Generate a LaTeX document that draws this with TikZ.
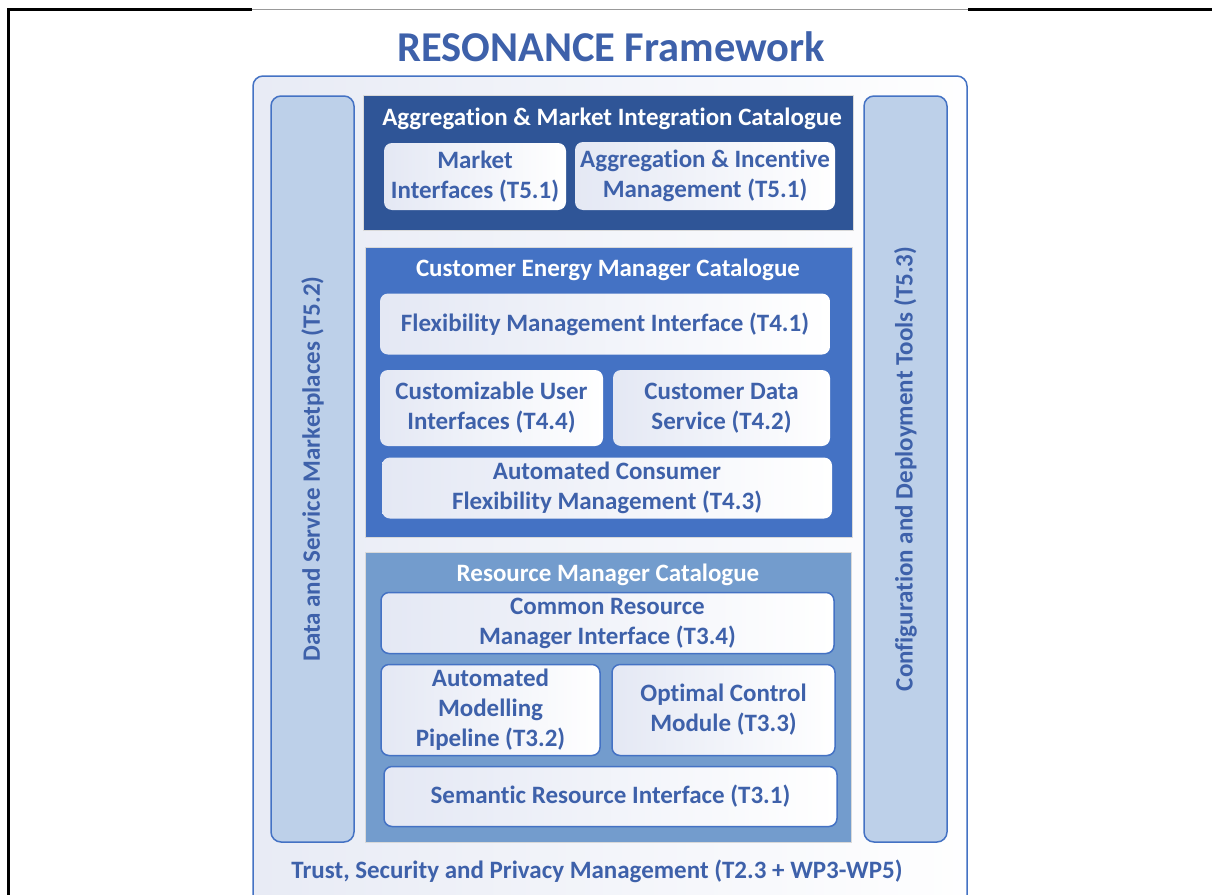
\documentclass[tikz,border=0pt]{standalone}
\usepackage{fontspec}
\setmainfont[Ligatures=NoCommon]{Carlito}
\usepackage{tikz}
\usetikzlibrary{positioning}
\definecolor{resline}{RGB}{68,114,196}
\definecolor{restext}{RGB}{62,97,170}
\definecolor{catdark}{RGB}{47,85,151}
\definecolor{catmid}{RGB}{68,114,196}
\definecolor{catlight}{RGB}{115,156,205}
\definecolor{pillarfill}{RGB}{189,208,233}
\definecolor{lavender}{RGB}{228,232,244}
\definecolor{framelav}{RGB}{232,235,245}
\tikzset{
  module/.style={rounded corners=8pt, left color=lavender, right color=white,
    draw=none, text=restext, align=center, inner sep=0pt,
    font=\bfseries\fontsize{25}{30}\selectfont},
  rmmodule/.style={module, draw=resline, line width=1.5pt},
  catalogue/.style={draw=black!15, line width=0.8pt, inner sep=0pt},
  cattitle/.style={text=white, font=\bfseries\fontsize{25}{30}\selectfont},
  pillar/.style={draw=resline, line width=1.5pt, fill=pillarfill, rounded corners=10pt,
    rotate=90, text=restext, inner sep=0pt, font=\bfseries\fontsize{25}{30}\selectfont}
}
\tikzstyle{framebox} = [draw=resline, line width=1.5pt, rounded corners=10pt,
  left color=framelav, right color=white!97!framelav]

\begin{document}
\begin{tikzpicture}[x=1pt, y=-1pt]
  \clip (0,0) rectangle (1212,894);
  \fill[white] (0,0) rectangle (1212,894);

  % page border
  \draw[line width=3pt] (8.5,900) -- (8.5,9) -- (252,9);
  \draw[black!40, line width=1pt] (252,9) -- (968,9);
  \draw[line width=3pt] (968,9) -- (1214,9);

  \node[text=restext, font=\bfseries\fontsize{42.5}{50}\selectfont] (title) at (611,47) {RESONANCE Framework};
  \node[framebox, minimum width=714pt, minimum height=860pt] (frame) at (610,506) {};

  % side pillars
  \node[pillar, minimum width=746pt, minimum height=83pt] (dsm) at (312.5,469) {Data and Service Marketplaces (T5.2)};
  \node[pillar, minimum width=746pt, minimum height=83pt] (cdt) at (905.5,469) {Configuration and Deployment Tools (T5.3)};

  % aggregation catalogue
  \node[catalogue, fill=catdark, minimum width=490pt, minimum height=135pt] (amic) at (608,162.5) {};
  \node[cattitle] (amictitle) at (612,119) {Aggregation \& Market Integration Catalogue};
  \node[module, minimum width=182pt, minimum height=67pt] (market) at (475,176.5) {Market\\Interfaces (T5.1)};
  \node[module, minimum width=260pt, minimum height=68pt] (aggr) at (705,176) {Aggregation \& Incentive\\Management (T5.1)};

  % customer energy manager catalogue
  \node[catalogue, fill=catmid, minimum width=487pt, minimum height=290pt] (cem) at (608.5,392) {};
  \node[cattitle] (cemtitle) at (608,270) {Customer Energy Manager Catalogue};
  \node[module, minimum width=450pt, minimum height=61pt] (flexif) at (605,324) {Flexibility Management Interface (T4.1)};
  \node[module, minimum width=223pt, minimum height=76pt] (custui) at (491.5,408) {Customizable User\\Interfaces (T4.4)};
  \node[module, minimum width=217pt, minimum height=76pt] (custdata) at (721.5,408) {Customer Data\\Service (T4.2)};
  \node[module, minimum width=450pt, minimum height=61pt] (autocons) at (607,488) {Automated Consumer\\Flexibility Management (T4.3)};

  % resource manager catalogue
  \node[catalogue, fill=catlight, minimum width=486pt, minimum height=290pt] (rm) at (608,697) {};
  \node[cattitle] (rmtitle) at (608,575) {Resource Manager Catalogue};
  \node[rmmodule, minimum width=453pt, minimum height=61pt] (commonrm) at (607.5,623) {Common Resource\\Manager Interface (T3.4)};
  \node[rmmodule, minimum width=219pt, minimum height=91pt] (automod) at (490.5,710) {Automated\\Modelling\\Pipeline (T3.2)};
  \node[rmmodule, minimum width=223pt, minimum height=91pt] (optctrl) at (723.5,710) {Optimal Control\\Module (T3.3)};
  \node[rmmodule, minimum width=453pt, minimum height=60pt] (semres) at (610.5,796.5) {Semantic Resource Interface (T3.1)};

  \node[text=restext, font=\bfseries\fontsize{25}{30}\selectfont] (trust) at (597,871) {Trust, Security and Privacy Management (T2.3 + WP3-WP5)};
\end{tikzpicture}
\end{document}
